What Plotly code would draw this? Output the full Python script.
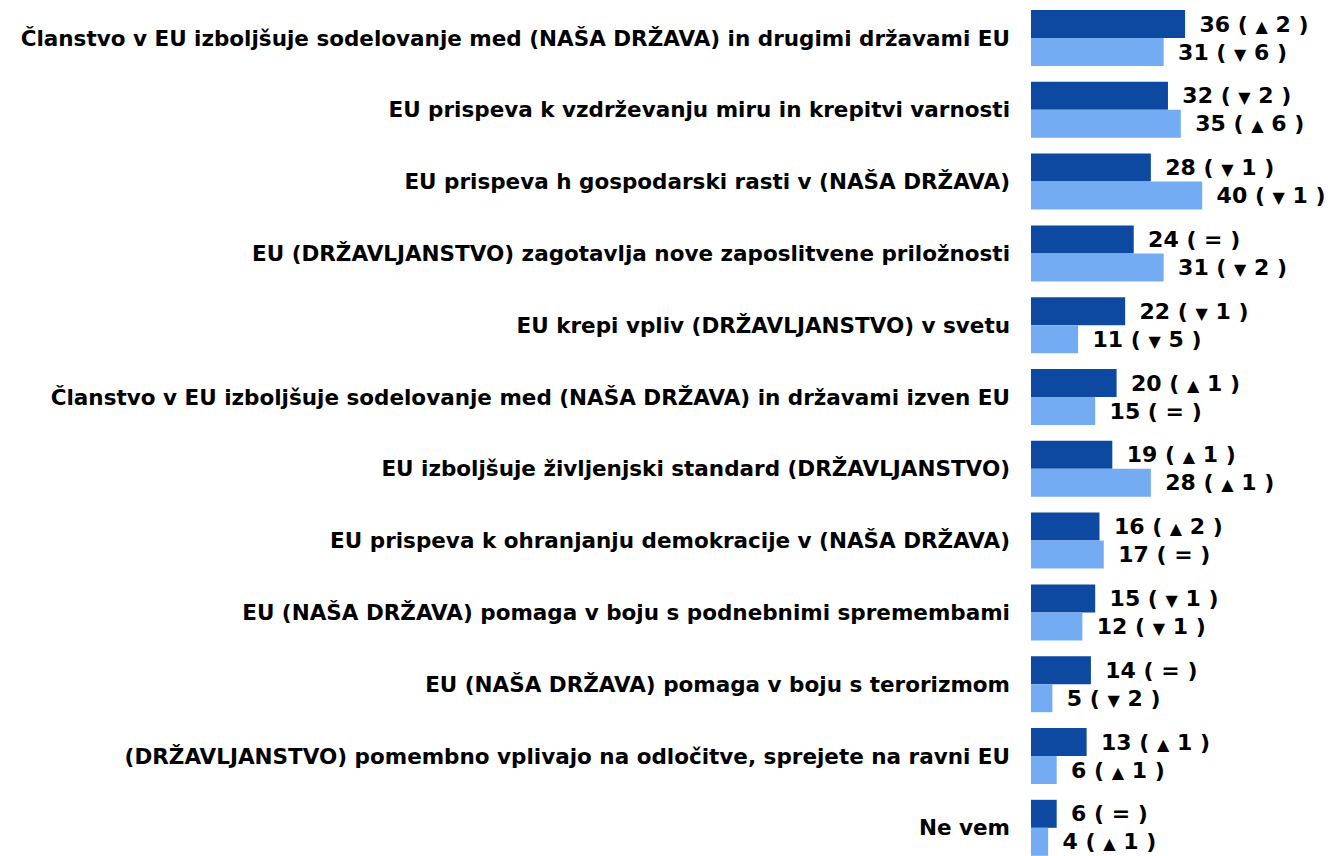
import plotly.graph_objects as go

categories = [
    "Članstvo v EU izboljšuje sodelovanje med (NAŠA DRŽAVA) in drugimi državami EU",
    "EU prispeva k vzdrževanju miru in krepitvi varnosti",
    "EU prispeva h gospodarski rasti v (NAŠA DRŽAVA)",
    "EU (DRŽAVLJANSTVO) zagotavlja nove zaposlitvene priložnosti",
    "EU krepi vpliv (DRŽAVLJANSTVO) v svetu",
    "Članstvo v EU izboljšuje sodelovanje med (NAŠA DRŽAVA) in državami izven EU",
    "EU izboljšuje življenjski standard (DRŽAVLJANSTVO)",
    "EU prispeva k ohranjanju demokracije v (NAŠA DRŽAVA)",
    "EU (NAŠA DRŽAVA) pomaga v boju s podnebnimi spremembami",
    "EU (NAŠA DRŽAVA) pomaga v boju s terorizmom",
    "(DRŽAVLJANSTVO) pomembno vplivajo na odločitve, sprejete na ravni EU",
    "Ne vem",
]

series1_values = [36, 32, 28, 24, 22, 20, 19, 16, 15, 14, 13, 6]
series1_changes = ["▲ 2", "▼ 2", "▼ 1", "=", "▼ 1", "▲ 1", "▲ 1", "▲ 2", "▼ 1", "=", "▲ 1", "="]

series2_values = [31, 35, 40, 31, 11, 15, 28, 17, 12, 5, 6, 4]
series2_changes = ["▼ 6", "▲ 6", "▼ 1", "▼ 2", "▼ 5", "=", "▲ 1", "=", "▼ 1", "▼ 2", "▲ 1", "▲ 1"]

FONT = "DejaVu Sans"


def fmt(v, c):
    if c == "=":
        inner = "="
    else:
        sym, num = c.split(" ")
        inner = "<span style='font-size:16px'>" + sym + "</span> " + num
    return "\u00a0\u2009<b>" + str(v) + " ( " + inner + " )</b>"


fig = go.Figure()
for vals, chg, col in [(series1_values, series1_changes, "#0D49A0"),
                       (series2_values, series2_changes, "#74ACF3")]:
    fig.add_trace(go.Bar(
        y=categories, x=vals, orientation="h",
        marker=dict(color=col, line=dict(width=0)),
        text=[fmt(v, c) for v, c in zip(vals, chg)],
        textposition="outside", cliponaxis=False, constraintext="none",
        textfont=dict(family=FONT, size=22, color="#000000"),
        hoverinfo="skip",
    ))

fig.update_layout(
    width=1334, height=856,
    margin=dict(l=1023, r=0, t=0, b=0),
    barmode="group", bargap=0.22, bargroupgap=0,
    plot_bgcolor="white", paper_bgcolor="white",
    showlegend=False,
    font=dict(family=FONT, color="#000000"),
)
fig.update_xaxes(range=[0, 72.66], visible=False, showgrid=False, zeroline=False)
fig.update_yaxes(
    type="category", categoryorder="array", categoryarray=categories,
    range=[11.504, -0.418], showgrid=False, zeroline=False, showline=False,
    ticks="", ticklabelstandoff=20,
    tickfont=dict(family=FONT, size=21.5, color="#000000", weight="bold"),
)

fig.write_html("out.html")
